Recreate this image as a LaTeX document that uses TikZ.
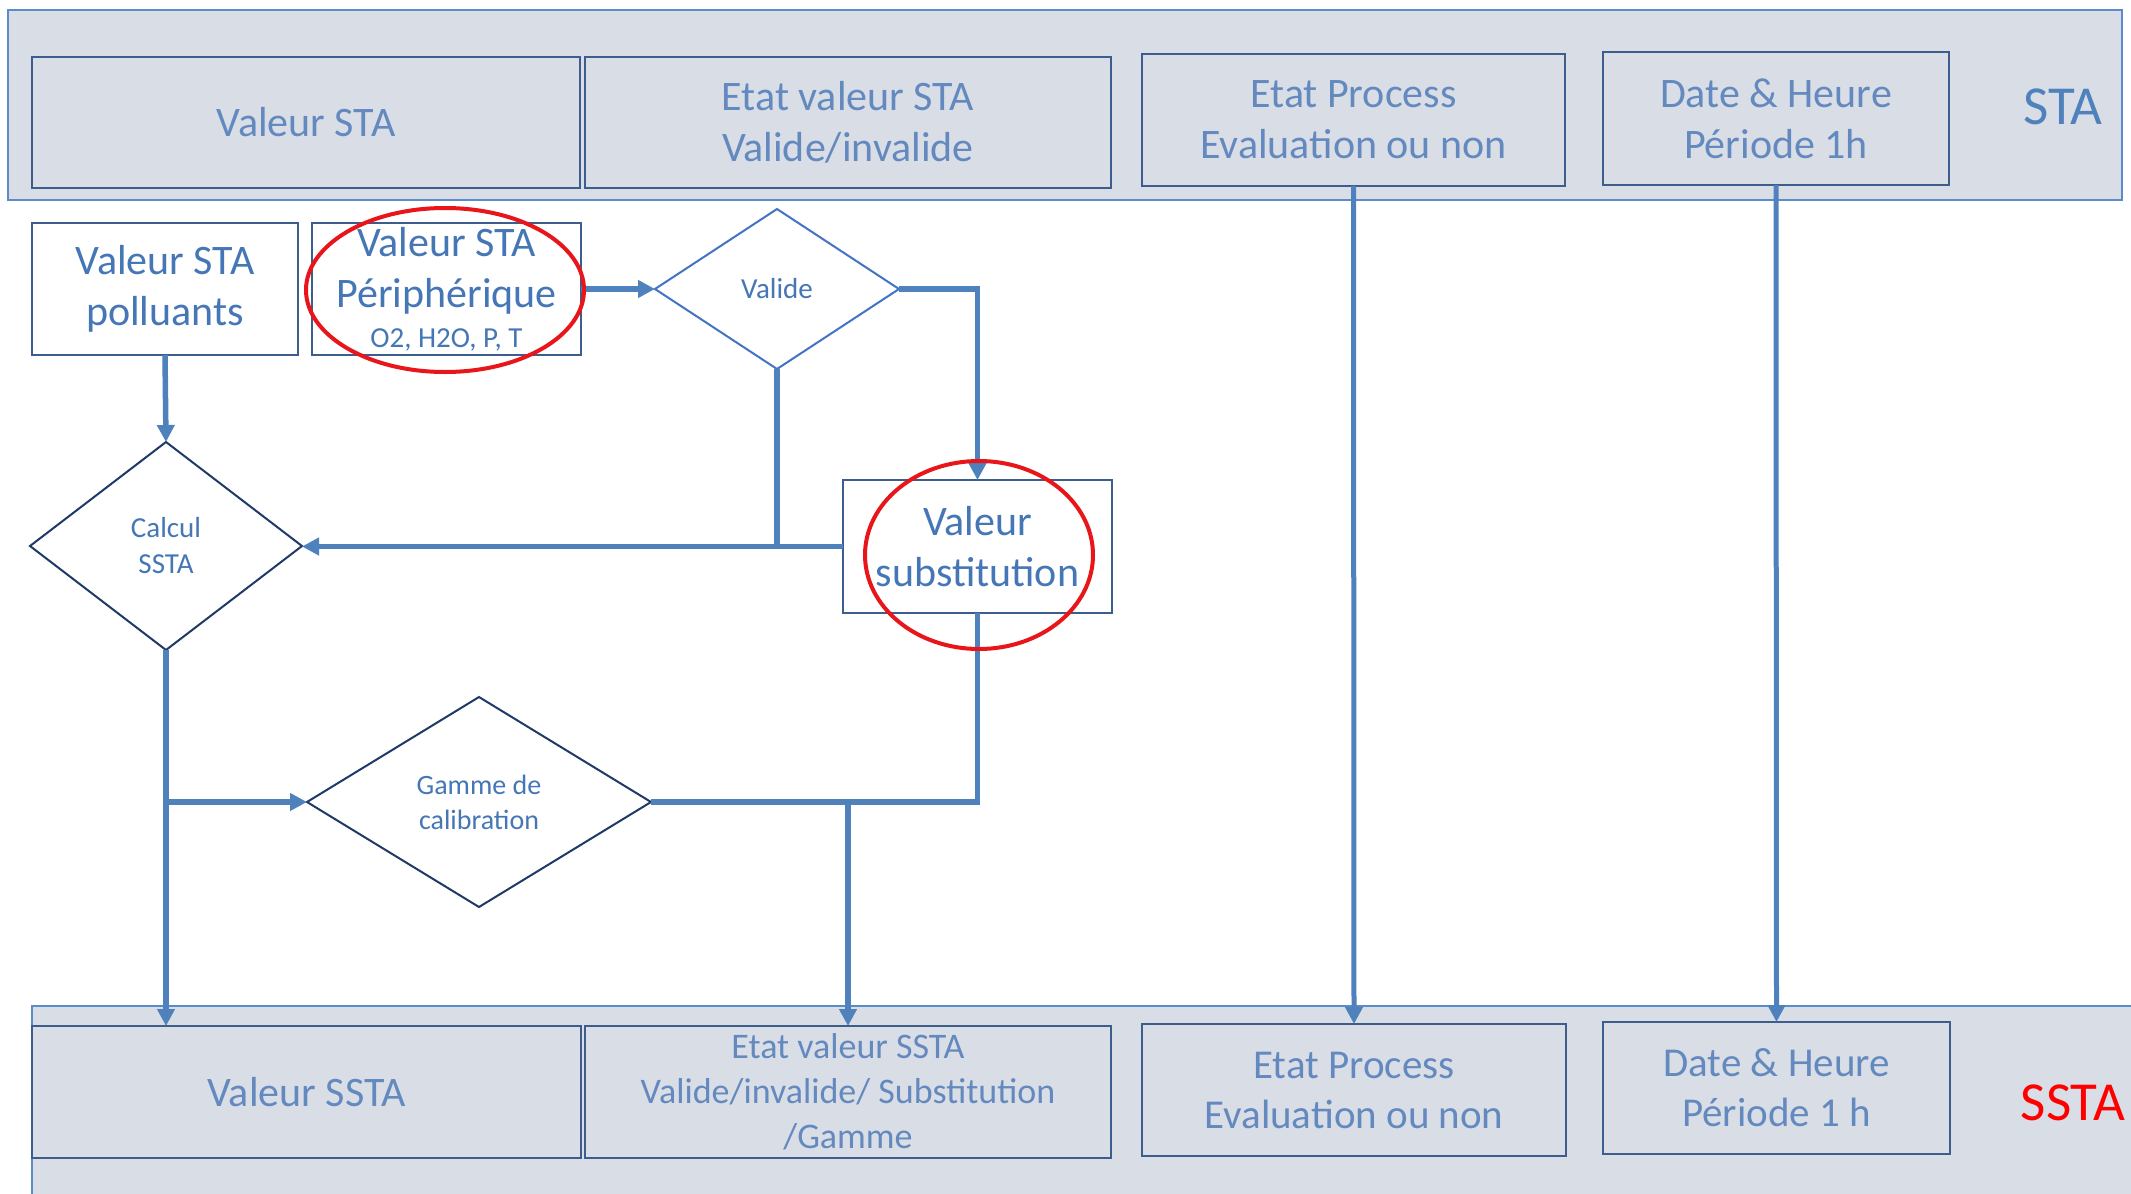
\documentclass[tikz,border=0pt]{standalone}
\usepackage{fontspec}
\setmainfont{Carlito}
\usetikzlibrary{arrows.meta,shapes.geometric,calc}

\definecolor{bandfill}{HTML}{D9DEE6}
\definecolor{bandedge}{HTML}{5B8BC9}
\definecolor{boxedge}{HTML}{3D5E8C}
\definecolor{bandtext}{HTML}{6389BF}
\definecolor{flow}{HTML}{4F81BD}
\definecolor{ink}{HTML}{4576B5}
\definecolor{darkedge}{HTML}{1F3A66}
\definecolor{lightedge}{HTML}{4472C4}
\definecolor{ringred}{HTML}{E8161B}

\tikzset{
  big/.style={font=\fontsize{42}{51}\selectfont},
  band/.style={draw=bandedge, line width=2pt, fill=bandfill},
  bandbox/.style={rectangle, draw=boxedge, line width=2.5pt, fill=bandfill,
    inner sep=0pt, outer sep=0pt, text=bandtext, align=center, big},
  whitebox/.style={rectangle, draw=boxedge, line width=2pt, fill=white,
    inner sep=0pt, outer sep=0pt, text=ink, align=center, big},
  decision/.style={diamond, draw=darkedge, line width=2pt, fill=white,
    inner sep=0pt, outer sep=0pt, text=ink, align=center,
    font=\fontsize{29}{36}\selectfont},
  ring/.style={ellipse, draw=ringred, line width=4pt, inner sep=0pt},
  flowline/.style={draw=flow, line width=5.5pt},
  flowarrow/.style={flowline, -{Triangle[length=17pt,width=17pt]}},
  tag/.style={font=\fontsize{55}{60}\selectfont, inner sep=0pt},
}

\begin{document}
\begin{tikzpicture}[x=1pt,y=-1pt]
\useasboundingbox (0,0) rectangle (2131,1194);
\fill[white] (0,0) rectangle (2131,1194);

% STA band
\draw[band] (8,10) rectangle (2122,200);
\node[bandbox, minimum width=548, minimum height=131] (sta1) at (306,122.5) {Valeur STA};
\node[bandbox, minimum width=526, minimum height=131] (sta2) at (848,122.5) {Etat valeur STA\\Valide/invalide};
\node[bandbox, minimum width=423, minimum height=132] (sta3) at (1353.5,120) {Etat Process\\Evaluation ou non};
\node[bandbox, minimum width=346, minimum height=133] (sta4) at (1776,118.5) {Date \& Heure\\Période 1h};
\node[tag, text=flow] (stalabel) at (2063,107) {STA};

% SSTA band
\draw[band] (32,1006) rectangle (2145,1210);
\node[bandbox, minimum width=549, minimum height=132] (ssta1) at (306.5,1092) {Valeur SSTA};
\node[bandbox, minimum width=526, minimum height=132, font=\fontsize{36}{45}\selectfont] (ssta2) at (848,1092)
  {Etat valeur SSTA\\Valide/invalide/ Substitution\\/Gamme};
\node[bandbox, minimum width=424, minimum height=132, font=\fontsize{41}{50}\selectfont] (ssta3) at (1354,1090) {Etat Process\\Evaluation ou non};
\node[bandbox, minimum width=347, minimum height=132, font=\fontsize{41}{50}\selectfont] (ssta4) at (1776.5,1088) {Date \& Heure\\Période 1 h};
\node[tag, text=red] (sstalabel) at (2073,1103) {SSTA};

% processing blocks
\node[whitebox, minimum width=266, minimum height=132] (poll) at (165,289) {Valeur STA\\polluants};
\node[whitebox, minimum width=269, minimum height=132] (peri) at (446.5,289)
  {Valeur STA\\Périphérique\\[-11pt]{\fontsize{29}{34}\selectfont O2, H2O, P, T}};
\node[whitebox, minimum width=269, minimum height=133] (subst) at (977.5,546.5) {Valeur\\substitution};

\node[decision, draw=lightedge, minimum width=244, minimum height=160] (valide) at (777,289) {Valide};
\node[decision, minimum width=272, minimum height=208] (calc) at (166,546) {Calcul\\SSTA};
\node[decision, minimum width=344, minimum height=210, font=\fontsize{28}{35}\selectfont] (gamme) at (479,802) {Gamme de\\calibration};

% connectors
\draw[flowarrow] (poll.south) -- (calc.north);
\draw[flowarrow] (peri.east) -- (valide.west);
\draw[flowarrow] (valide.east) -| (subst.north);
\draw[flowline] (valide.south) -- (valide.south |- subst.west) -- ($(valide.south |- subst.west)+(-205,0)$);
\draw[flowarrow] (subst.west) -- (calc.east |- subst.west);
\draw[flowarrow] (calc.south) -- (calc.south |- ssta1.north);
\coordinate (split) at (calc.south |- gamme.west);
\draw[flowarrow] (split) -- (gamme.west);
\draw[flowline] (gamme.east) -| (subst.south);
\coordinate (merge) at (ssta2.north |- gamme.east);
\draw[flowarrow] (merge) -- (ssta2.north);
\draw[flowarrow, line width=5pt] (sta3.south) -- (ssta3.north);
\draw[flowarrow, line width=5pt] (sta4.south) -- (ssta4.north);

% highlighted blocks
\node[ring, minimum width=278, minimum height=164] (ringperi) at (445,290) {};
\node[ring, minimum width=228, minimum height=188] (ringsubst) at (979,555) {};
\end{tikzpicture}
\end{document}
